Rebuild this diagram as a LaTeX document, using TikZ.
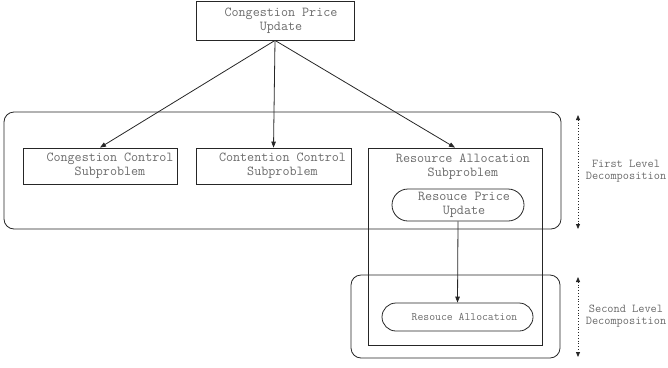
\documentclass[tikz,border=0pt]{standalone}
\usepackage{fontspec}
\usetikzlibrary{arrows.meta,shapes.misc}
\definecolor{edge}{gray}{0.15}
\definecolor{ink}{gray}{0.42}
\begin{document}
\begin{tikzpicture}[x=1pt,y=-1pt,
  box/.style={draw=edge, line width=0.8pt, inner sep=0pt},
  pill/.style={box, rounded rectangle},
  txt/.style={text=ink, font=\ttfamily\fontsize{13.7}{14}\selectfont, align=center, inner sep=0pt},
  arr/.style={draw=edge, line width=0.8pt, -{Triangle[length=6pt,width=4.5pt]}},
  span/.style={draw=edge, dotted, line width=0.8pt, {Triangle[length=5pt,width=4pt]}-{Triangle[length=5pt,width=4pt]}}]
  \useasboundingbox (0,0) rectangle (668,367);
  % the two decomposition levels
  \draw[box, rounded corners=10pt] (4,112) rectangle (561,229);
  \draw[box, rounded corners=10pt] (351,275) rectangle (560,358);
  % boxes
  \node[box, minimum width=158pt, minimum height=39pt, label={[txt,xshift=6pt]center:Congestion Price\\Update}] (price) at (275,20.5) {};
  \node[box, minimum width=154pt, minimum height=36pt, label={[txt,xshift=10pt]center:Congestion Control\\Subproblem}] (cong) at (100,166) {};
  \node[box, minimum width=155pt, minimum height=36pt, label={[txt,xshift=9pt]center:Contention Control\\Subproblem}] (cont) at (273.5,166) {};
  \node[box, minimum width=174pt, minimum height=197pt, label={[txt,anchor=north,xshift=8pt,yshift=-6pt]north:Resource Allocation\\Subproblem}] (res) at (455,246.5) {};
  \node[pill, fill=white, minimum width=132pt, minimum height=32pt, label={[txt,xshift=6pt]center:Resouce Price\\Update}] (rprice) at (458,205) {};
  \node[pill, minimum width=151pt, minimum height=28pt, label={[txt,font=\ttfamily\fontsize{11.4}{12}\selectfont,xshift=7pt]center:Resouce Allocation}] (ralloc) at (457.5,317) {};
  % arrows
  \draw[arr] (price.south) -- (cong.north);
  \draw[arr] (price.south) -- (cont.north);
  \draw[arr] (price.south) -- (res.north);
  \draw[arr] (rprice.south) -- (ralloc.north);
  % level spans
  \coordinate (f1) at (578,115);
  \coordinate (f2) at (578,229);
  \coordinate (s1) at (578,277);
  \coordinate (s2) at (578,357);
  \draw[span] (f1) -- (f2);
  \draw[span] (s1) -- (s2);
  \node[txt, font=\ttfamily\fontsize{12}{12.5}\selectfont] (first) at (626,171) {First Level\\Decomposition};
  \node[txt, font=\ttfamily\fontsize{12}{12.5}\selectfont] (second) at (626,316) {Second Level\\Decomposition};
\end{tikzpicture}
\end{document}
